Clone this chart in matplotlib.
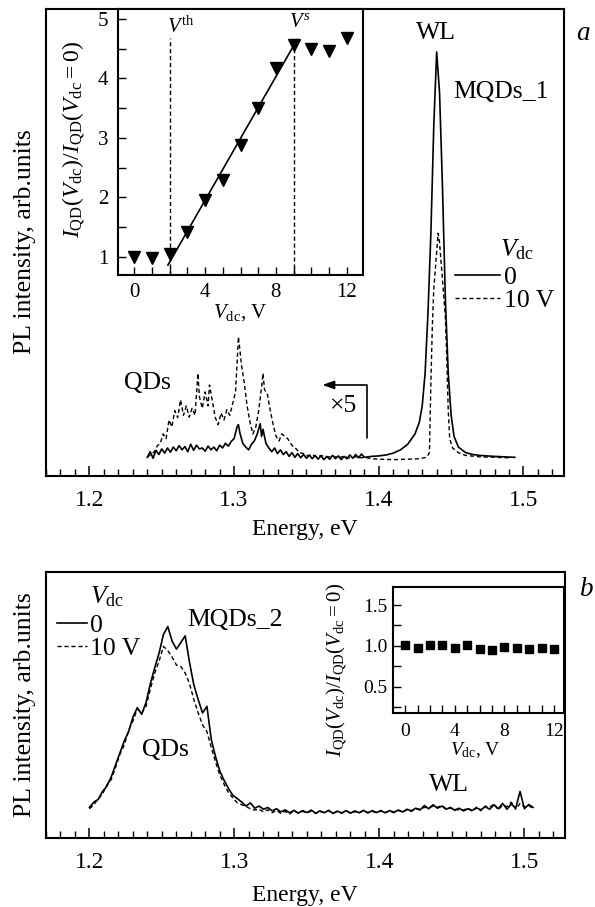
import numpy as np
import matplotlib
matplotlib.use('Agg')
import matplotlib.pyplot as plt
from matplotlib.ticker import MultipleLocator
from matplotlib.lines import Line2D

plt.rcParams['font.family'] = ['Liberation Serif', 'DejaVu Serif']
plt.rcParams['mathtext.fontset'] = 'custom'
plt.rcParams['mathtext.rm'] = 'Liberation Serif'
plt.rcParams['mathtext.it'] = 'Liberation Serif:italic'

# ---- panel a: spectra of MQDs_1 (intensity in % of axis height)
energy_a0 = [1.240, 1.242, 1.244, 1.246, 1.248, 1.250, 1.252, 1.254, 1.256, 1.258,
             1.260, 1.262, 1.264, 1.266, 1.268, 1.270, 1.272, 1.274, 1.276, 1.278,
             1.280, 1.282, 1.284, 1.286, 1.288, 1.290, 1.292, 1.294, 1.296, 1.298,
             1.300, 1.302, 1.303, 1.304, 1.306, 1.308, 1.310, 1.312, 1.314, 1.316,
             1.318, 1.319, 1.320, 1.322, 1.324, 1.326, 1.328, 1.330, 1.332, 1.334,
             1.336, 1.338, 1.340, 1.342, 1.344, 1.346, 1.348, 1.350, 1.352, 1.354,
             1.356, 1.358, 1.360, 1.362, 1.364, 1.366, 1.368, 1.370, 1.372, 1.374,
             1.376, 1.378, 1.380, 1.382, 1.384, 1.386, 1.388, 1.390, 1.395, 1.400,
             1.405, 1.410, 1.415, 1.420, 1.425, 1.428, 1.430, 1.432, 1.434, 1.436,
             1.438, 1.440, 1.442, 1.444, 1.446, 1.448, 1.450, 1.452, 1.455, 1.460,
             1.465, 1.470, 1.480, 1.494]
pl_a0 = [4.0, 5.2, 3.8, 5.5, 4.6, 5.8, 4.9, 6.0, 5.1, 6.2,
         5.4, 6.5, 5.6, 6.3, 5.2, 6.8, 5.5, 6.6, 5.8, 6.0,
         5.3, 6.4, 5.6, 6.2, 5.4, 6.6, 6.0, 7.0, 6.4, 7.4,
         8.0, 10.5, 11.0, 9.2, 7.0, 6.2, 5.6, 6.8, 7.5, 9.0,
         11.2, 8.5, 10.0, 7.0, 6.0, 5.2, 6.0, 4.8, 5.6, 4.6,
         5.2, 4.2, 5.0, 4.0, 4.8, 3.9, 4.6, 3.8, 4.5, 3.7,
         4.4, 3.6, 4.3, 3.5, 4.2, 3.6, 4.4, 3.7, 4.3, 3.5,
         4.2, 3.7, 4.5, 3.8, 4.6, 3.9, 4.7, 4.0, 4.2, 4.3,
         4.5, 4.9, 5.6, 6.8, 9.0, 11.5, 15.0, 22.0, 35.0, 52.0,
         75.0, 90.8, 82.0, 62.0, 38.0, 22.0, 13.0, 8.5, 6.2, 5.0,
         4.6, 4.4, 4.2, 4.0]

energy_a10 = [1.240, 1.243, 1.245, 1.247, 1.249, 1.251, 1.253, 1.255, 1.257, 1.259,
              1.261, 1.263, 1.265, 1.267, 1.269, 1.271, 1.273, 1.275, 1.276, 1.278,
              1.280, 1.282, 1.283, 1.285, 1.287, 1.289, 1.291, 1.293, 1.295, 1.297,
              1.299, 1.301, 1.303, 1.304, 1.305, 1.307, 1.309, 1.311, 1.313, 1.315,
              1.317, 1.319, 1.320, 1.321, 1.323, 1.325, 1.327, 1.329, 1.331, 1.333,
              1.335, 1.337, 1.339, 1.341, 1.343, 1.345, 1.348, 1.351, 1.354, 1.357,
              1.360, 1.364, 1.368, 1.372, 1.376, 1.380, 1.384, 1.388, 1.390, 1.395,
              1.400, 1.410, 1.420, 1.428, 1.433, 1.435, 1.436, 1.437, 1.438, 1.440,
              1.441, 1.442, 1.444, 1.446, 1.447, 1.448, 1.449, 1.451, 1.455, 1.460,
              1.470, 1.480, 1.490]
pl_a10 = [4.0, 4.8, 5.2, 6.5, 7.0, 9.0, 8.0, 12.0, 10.5, 14.0,
          12.5, 16.3, 13.0, 15.0, 12.6, 14.5, 13.0, 22.0, 17.0, 14.5,
          18.0, 15.0, 19.5, 16.0, 12.5, 11.0, 13.5, 12.0, 14.2, 13.0,
          15.5, 18.0, 29.8, 27.0, 24.0, 20.0, 15.0, 11.5, 9.0, 10.5,
          14.0, 19.0, 22.0, 18.5, 17.5, 14.0, 11.0, 8.5, 7.5, 9.0,
          8.5, 8.0, 7.0, 6.2, 5.8, 5.0, 4.8, 4.3, 4.6, 4.1,
          4.4, 4.0, 4.3, 3.9, 4.2, 3.8, 4.1, 3.9, 4.0, 3.7,
          3.6, 3.5, 3.6, 3.7, 4.0, 5.0, 20.0, 32.0, 40.0, 48.0,
          52.0, 50.0, 42.0, 34.0, 25.0, 14.0, 8.0, 6.0, 5.0, 4.4,
          4.1, 4.0, 3.9]

# inset a: I_QD(V_dc)/I_QD(0)
vdc_a = [0, 1, 2, 3, 4, 5, 6, 7, 8, 9, 10, 11, 12]
ratio_a = [1.0, 0.98, 1.04, 1.42, 1.96, 2.29, 2.88, 3.5, 4.18, 4.57, 4.5, 4.47, 4.68]
v_th = 2
v_s = 9

# ---- panel b: spectra of MQDs_2
energy_b = [1.200, 1.203, 1.206, 1.209, 1.212, 1.215, 1.218, 1.221, 1.224, 1.227,
            1.230, 1.233, 1.236, 1.239, 1.242, 1.245, 1.248, 1.251, 1.254, 1.257,
            1.260, 1.263, 1.266, 1.269, 1.272, 1.275, 1.278, 1.281, 1.284, 1.287,
            1.290, 1.293, 1.296, 1.299, 1.302, 1.305, 1.308, 1.311, 1.314, 1.317,
            1.320, 1.323, 1.326, 1.329, 1.332, 1.335, 1.338, 1.341, 1.344, 1.347,
            1.350, 1.353, 1.356, 1.359, 1.362, 1.365, 1.368, 1.371, 1.374, 1.377,
            1.380, 1.383, 1.386, 1.389, 1.392, 1.395, 1.398, 1.401, 1.404, 1.407,
            1.410, 1.413, 1.416, 1.419, 1.422, 1.425, 1.428, 1.431, 1.434, 1.437,
            1.440, 1.443, 1.446, 1.449, 1.452, 1.455, 1.458, 1.461, 1.464, 1.467,
            1.470, 1.473, 1.476, 1.479, 1.482, 1.485, 1.488, 1.491, 1.494, 1.497,
            1.500, 1.503, 1.506]
pl_b0 = [11.5, 13.5, 14.5, 17.5, 19.5, 23.0, 27.5, 32.0, 36.5, 40.0,
         45.5, 49.0, 46.5, 51.0, 58.0, 64.0, 69.5, 76.5, 79.5, 74.0,
         71.0, 73.5, 76.0, 66.0, 57.5, 52.0, 47.0, 49.5, 37.0, 30.5,
         25.0, 21.5, 18.5, 16.0, 14.8, 13.5, 12.0, 13.2, 11.2, 12.0,
         10.8, 11.5, 10.2, 11.0, 9.8, 10.6, 9.5, 10.4, 9.4, 10.3,
         9.6, 10.5, 9.3, 10.2, 9.5, 10.4, 9.2, 10.1, 9.4, 10.3,
         9.3, 10.2, 9.5, 10.4, 9.4, 10.3, 9.6, 10.2, 9.5, 10.3,
         9.7, 10.5, 9.8, 10.8, 10.2, 11.2, 10.5, 12.2, 11.0, 12.5,
         11.2, 12.0, 10.8, 11.5, 10.4, 11.2, 10.2, 11.0, 10.4, 11.3,
         10.6, 11.8, 10.8, 12.5, 11.0, 13.0, 10.8, 12.8, 11.2, 17.5,
         11.0, 12.6, 11.5]
pl_b10 = [11.0, 12.5, 14.8, 16.5, 20.0, 22.0, 26.5, 31.5, 35.0, 40.5,
          44.0, 48.5, 47.0, 49.5, 56.0, 62.0, 66.5, 72.0, 70.5, 68.0,
          65.0, 64.5, 62.0, 58.0, 52.0, 47.0, 42.5, 40.0, 34.0, 28.5,
          23.5, 20.0, 17.0, 15.0, 13.2, 12.5, 11.8, 11.0, 10.5, 10.8,
          9.8, 10.6, 9.5, 10.4, 9.2, 10.0, 9.0, 10.2, 9.3, 10.0,
          9.4, 10.1, 9.2, 9.9, 9.6, 10.2, 9.4, 10.0, 9.3, 10.2,
          9.5, 9.9, 9.4, 10.3, 9.6, 10.0, 9.5, 10.4, 9.6, 10.1,
          9.5, 10.4, 9.7, 10.6, 10.0, 11.0, 10.8, 11.5, 11.4, 12.0,
          11.5, 12.3, 11.0, 11.2, 10.8, 10.6, 10.5, 11.2, 10.0, 11.6,
          10.2, 12.0, 11.5, 12.8, 10.6, 12.4, 11.8, 13.5, 10.8, 13.0,
          11.6, 12.2, 11.0]

vdc_b = [0, 1, 2, 3, 4, 5, 6, 7, 8, 9, 10, 11, 12]
ratio_b = [1.01, 0.98, 1.01, 1.01, 0.98, 1.01, 0.96, 0.95, 0.99, 0.98, 0.96, 0.98, 0.96]

W, H = 595, 907
def rect(l, t, r, b):
    return [l / W, 1 - b / H, (r - l) / W, (b - t) / H]

def ftext(x, y, s, **kw):
    fig.text(x / W, 1 - y / H, s, **kw)

fig = plt.figure(figsize=(W / 100, H / 100), dpi=100)
dash = (0, (3.0, 2.0))
lw_spine = 1.5
fs_tick = 17
fs_lab = 17
fs_ylab = 18.5
fs_note = 18.5


def style_main(ax):
    ax.set_xlim(1.170, 1.528)
    ax.set_ylim(0, 100)
    ax.set_yticks([])
    ax.xaxis.set_major_locator(MultipleLocator(0.1))
    ax.xaxis.set_minor_locator(MultipleLocator(0.01))
    ax.tick_params(axis='x', which='major', direction='in', length=7, width=1.1,
                   labelsize=fs_tick, pad=10, top=False)
    ax.tick_params(axis='x', which='minor', direction='in', length=5, width=1.0, top=False)
    for sp in ax.spines.values():
        sp.set_linewidth(lw_spine)


def style_inset(ax, fs, ypad, xpad):
    ax.tick_params(which='both', direction='in', length=6, width=1.0,
                   labelsize=fs, top=False, right=False)
    ax.tick_params(axis='y', pad=ypad)
    ax.tick_params(axis='x', pad=xpad)
    for sp in ax.spines.values():
        sp.set_linewidth(lw_spine)


def vdc_legend(ax, anchor, hlen):
    return ax.legend(handles=[Line2D([], [], color='black', lw=1.2),
                              Line2D([], [], color='black', lw=1.0, linestyle=dash)],
                     labels=['0', '10 V'], loc='upper left', bbox_to_anchor=anchor,
                     frameon=False, fontsize=fs_note, handlelength=hlen,
                     handletextpad=0.15, labelspacing=0.0, borderpad=0,
                     borderaxespad=0)


# ================= panel a
ax1 = fig.add_axes(rect(46, 9, 564, 476))
style_main(ax1)
ax1.plot(energy_a0, pl_a0, color='black', lw=1.2)
ax1.plot(energy_a10, pl_a10, color='black', lw=1.0, linestyle=dash)
ax1.text(1.4393, 94.9, 'WL', fontsize=fs_note, ha='center', va='center')
ax1.text(1.4517, 82.2, 'MQDs_1', fontsize=fs_note, ha='left', va='center')
ax1.text(1.224, 19.9, 'QDs', fontsize=fs_note, ha='left', va='center')
ax1.text(1.366, 15.0, '×5', fontsize=fs_note, ha='left', va='center')
ax1.annotate('', xy=(1.361, 19.5), xytext=(1.392, 8.1),
             arrowprops=dict(arrowstyle='-|>,head_length=0.7,head_width=0.25',
                             connectionstyle='angle,angleA=90,angleB=0,rad=0',
                             color='black', lw=1.2, shrinkA=0, shrinkB=0))
vdc_legend(ax1, ((455 - 46) / 518, (476 - 266) / 467), 1.75)
ftext(500, 250, r'$V_{\rm dc}$', fontsize=fs_note, ha='left', va='center')
ftext(583, 33, 'a', fontsize=fs_note + 1, style='italic', ha='center', va='center')
ftext(25, 242, 'PL intensity, arb.units', fontsize=fs_ylab, rotation=90,
      ha='center', va='center')
ftext(305, 530, 'Energy, eV', fontsize=fs_lab, ha='center', va='center')

# inset a
ax1i = fig.add_axes(rect(118, 9, 363, 275))
ax1i.set_xlim(-0.92, 12.92)
ax1i.set_ylim(0.69, 5.17)
ax1i.xaxis.set_major_locator(MultipleLocator(4))
ax1i.xaxis.set_minor_locator(MultipleLocator(1))
ax1i.yaxis.set_major_locator(MultipleLocator(1))
ax1i.yaxis.set_minor_locator(MultipleLocator(0.5))
style_inset(ax1i, 15, 7, 6)
fit = np.polyfit(vdc_a[v_th:v_s + 1], ratio_a[v_th:v_s + 1], 1)
vfit = np.array([1.9, 9.2])
ax1i.plot(vfit, np.polyval(fit, vfit), color='black', lw=1.2)
ax1i.vlines(v_th, 0.69, 4.68, colors='black', lw=1.0, linestyles=dash)
ax1i.vlines(v_s, 0.69, ratio_a[v_s], colors='black', lw=1.0, linestyles=dash)
ax1i.plot(vdc_a, ratio_a, 'v', color='black', markersize=9)
ax1i.text(1.85, 4.87, r'$V^{\rm th}$', fontsize=15, ha='left', va='center')
ax1i.text(8.75, 4.95, r'$V^{s}$', fontsize=15, ha='left', va='center')
ftext(74, 140, r'$I_{\rm QD}(V_{\rm dc})/I_{\rm QD}(V_{\rm dc}=0)$', fontsize=17,
      rotation=90, ha='center', va='center')
ftext(240, 313, r'$V_{\rm dc}$, V', fontsize=15, ha='center', va='center')

# ================= panel b
ax2 = fig.add_axes(rect(46, 572, 565, 838))
style_main(ax2)
ax2.plot(energy_b, pl_b0, color='black', lw=1.2)
ax2.plot(energy_b, pl_b10, color='black', lw=1.0, linestyle=dash)
ax2.text(1.2676, 82.0, 'MQDs_2', fontsize=fs_note, ha='left', va='center')
ax2.text(1.2359, 33.0, 'QDs', fontsize=fs_note, ha='left', va='center')
ax2.text(1.4483, 20.0, 'WL', fontsize=fs_note, ha='center', va='center')
vdc_legend(ax2, ((57 - 46) / 519, (838 - 614) / 266), 1.15)
ftext(90, 597, r'$V_{\rm dc}$', fontsize=fs_note, ha='left', va='center')
ftext(587, 590, 'b', fontsize=fs_note + 1, style='italic', ha='center', va='center')
ftext(25, 705, 'PL intensity, arb.units', fontsize=fs_ylab, rotation=90,
      ha='center', va='center')
ftext(305, 895, 'Energy, eV', fontsize=fs_lab, ha='center', va='center')

# inset b
ax2i = fig.add_axes(rect(393, 587, 564, 713))
ax2i.set_xlim(-0.98, 12.8)
ax2i.set_ylim(0.18, 1.72)
ax2i.xaxis.set_major_locator(MultipleLocator(4))
ax2i.xaxis.set_minor_locator(MultipleLocator(1))
ax2i.yaxis.set_major_locator(MultipleLocator(0.5))
ax2i.yaxis.set_minor_locator(MultipleLocator(0.25))
ax2i.yaxis.set_major_formatter('{x:.1f}')
style_inset(ax2i, 14, 4, 7)
ax2i.plot(vdc_b, ratio_b, 's', color='black', markersize=5.5)
ftext(337, 670, r'$I_{\rm QD}(V_{\rm dc})/I_{\rm QD}(V_{\rm dc}=0)$', fontsize=15,
      rotation=90, ha='center', va='center')
ftext(475, 750, r'$V_{\rm dc}$, V', fontsize=14, ha='center', va='center')

fig.savefig('out.png', dpi=100)
